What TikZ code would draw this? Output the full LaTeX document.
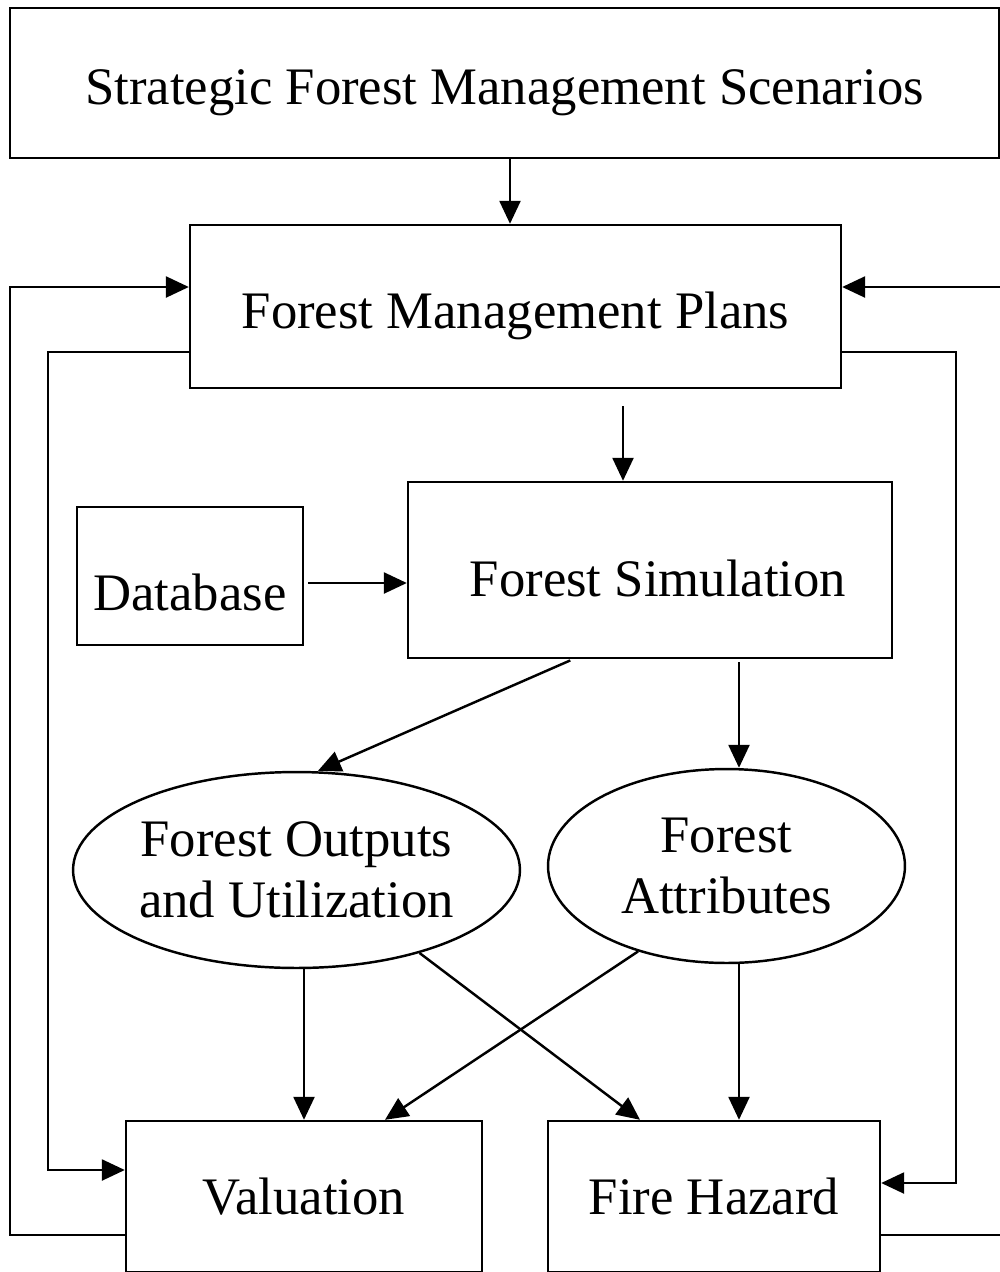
\documentclass[tikz,border=0pt]{standalone}
\usepackage{fontspec}
\setmainfont{Liberation Serif}
\usetikzlibrary{arrows.meta, shapes.geometric}
\newcommand{\lowtext}[2]{\raisebox{-#1}[\height][\depth]{#2}}

\begin{document}
\begin{tikzpicture}[x=0.02cm, y=-0.02cm, line width=1.4pt,
  box/.style={draw, rectangle, align=center, font=\fontsize{30}{36}\selectfont},
  oval/.style={draw, ellipse, inner sep=0pt, align=center, font=\fontsize{30}{35}\selectfont},
  arr/.style={-{Triangle[length=0.46cm, width=0.42cm]}}]
\useasboundingbox (0,0) rectangle (1000,1272);
\clip (0,0) rectangle (1000,1272);
% boxes
\node[box, minimum width=19.78cm, minimum height=3cm] (scen) at (504.5,83) {\lowtext{0.2cm}{Strategic Forest Management Scenarios}};
\node[box, minimum width=13.02cm, minimum height=3.26cm] (fmp) at (515.5,306.5) {\lowtext{0.18cm}{Forest Management Plans}};
\node[box, minimum width=9.68cm, minimum height=3.52cm] (sim) at (650,570) {\hspace*{0.32cm}\lowtext{0.16cm}{Forest Simulation}};
\node[box, minimum width=4.52cm, minimum height=2.76cm] (db) at (190,576) {\lowtext{0.32cm}{Database}};
\node[oval, minimum width=8.94cm, minimum height=3.92cm] (out) at (296.5,870) {Forest Outputs\\and Utilization};
\node[oval, minimum width=7.14cm, minimum height=3.88cm] (att) at (726.5,866) {Forest\\Attributes};
\node[box, minimum width=7.12cm, minimum height=3.02cm] (val) at (304,1196.5) {Valuation};
\node[box, minimum width=6.64cm, minimum height=3.02cm] (fire) at (714,1196.5) {Fire Hazard};
% corners of the feedback loops
\coordinate (l1) at (10,287);
\coordinate (l2) at (48,352);
\coordinate (r1) at (956,352);
\coordinate (r2) at (1010,287);
% main flow
\draw[arr] (scen.south -| 510,0) -- (fmp.north -| 510,0);
\draw[arr, shorten <=0.34cm] (fmp.south -| 623,0) -- (sim.north -| 623,0);
\draw[arr, shorten <=0.08cm] (db.east |- 0,583) -- (sim.west |- 0,583);
\draw[arr, shorten <=0.06cm] (sim.south -| 573,0) -- (out.north -| 318,0);
\draw[arr, shorten <=0.06cm] (sim.south -| 739,0) -- (att.north -| 739,0);
\draw[arr] (out.south -| 304,0) -- (val.north -| 304,0);
\draw[arr] (out.-34) -- (fire.north -| 640,0);
\draw[arr] (att.-136) -- (val.north -| 385,0);
\draw[arr] (att.south -| 739,0) -- (fire.north -| 739,0);
% feedback
\draw[arr] (val.west |- 0,1235) -| (l1) -- (fmp.west |- l1);
\draw[arr] (fmp.west |- l2) -- (l2) |- (val.west |- 0,1170);
\draw[arr] (fmp.east |- r1) -- (r1) |- (fire.east |- 0,1183);
\draw[arr] (fire.east |- 0,1235) -| (r2) -- (fmp.east |- r2);
\end{tikzpicture}
\end{document}
